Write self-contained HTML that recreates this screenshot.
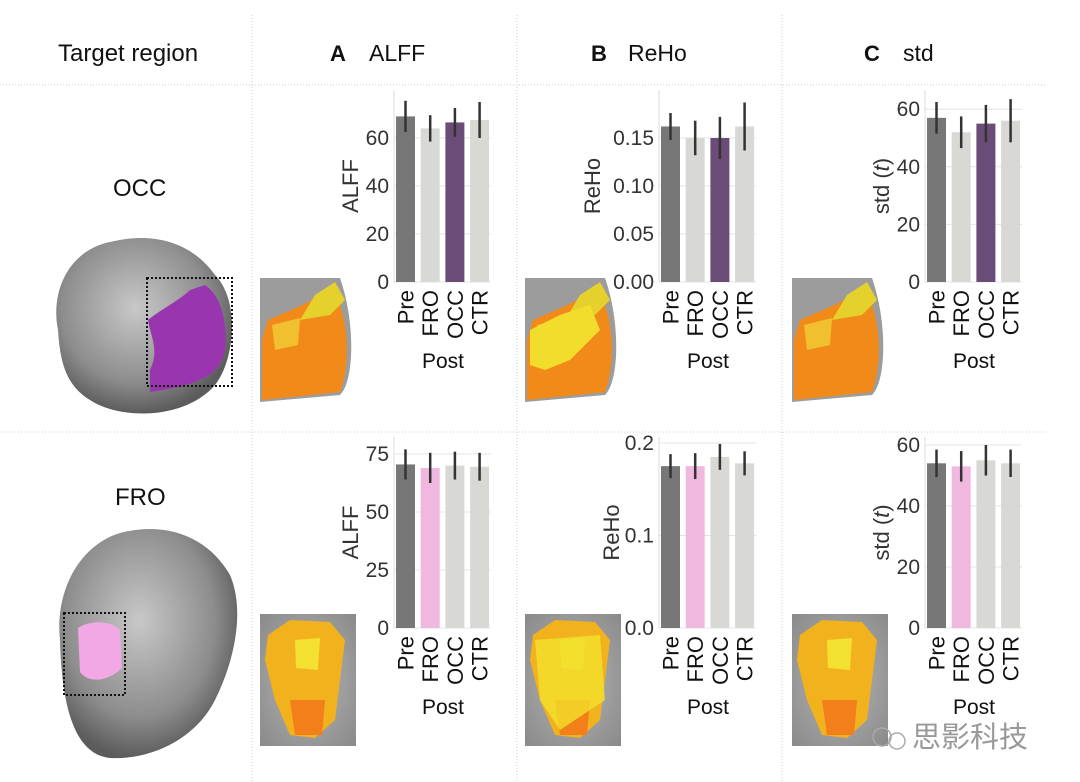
<!DOCTYPE html>
<html><head><meta charset="utf-8"><style>
html,body{margin:0;padding:0;background:#fff}
svg{display:block}
text{font-family:"Liberation Sans","Noto Sans CJK SC",sans-serif}
</style></head><body>
<svg id="s" width="1080" height="782" viewBox="0 0 1080 782" xmlns="http://www.w3.org/2000/svg">
<defs>
<radialGradient id="brain" cx="45%" cy="40%" r="60%"><stop offset="0" stop-color="#c8c8c8"/><stop offset="0.7" stop-color="#8d8d8d"/><stop offset="1" stop-color="#5c5c5c"/></radialGradient>
<radialGradient id="gbg" cx="50%" cy="50%" r="70%"><stop offset="0" stop-color="#b5b5b5"/><stop offset="1" stop-color="#8a8a8a"/></radialGradient>
</defs>
<g stroke="#ccc" stroke-dasharray="1,2" stroke-width="1">
<line x1="252" y1="15" x2="252" y2="782"/><line x1="517" y1="15" x2="517" y2="782"/><line x1="782" y1="15" x2="782" y2="782"/>
<line x1="0" y1="85" x2="1045" y2="85"/><line x1="0" y1="432" x2="1045" y2="432"/>
</g>
<text x="58" y="61" font-size="24" fill="#111">Target region</text>
<text x="330" y="61" font-size="22" font-weight="bold" fill="#111">A</text><text x="369" y="61" font-size="23" fill="#111">ALFF</text>
<text x="591" y="61" font-size="22" font-weight="bold" fill="#111">B</text><text x="628" y="61" font-size="23" fill="#111">ReHo</text>
<text x="864" y="61" font-size="22" font-weight="bold" fill="#111">C</text><text x="903" y="61" font-size="23" fill="#111">std</text>
<text x="113" y="196" font-size="24" fill="#111">OCC</text>
<text x="115" y="505" font-size="24" fill="#111">FRO</text>
<path d="M58,330 C50,290 70,250 110,242 C150,232 190,240 215,275 C240,300 235,360 215,385 C185,420 120,420 90,400 C65,385 60,360 58,330Z" fill="url(#brain)"/>
<path d="M148,320 C160,310 180,300 190,290 L205,285 C220,295 228,320 225,350 C220,375 200,385 150,392 L150,370 C160,350 150,335 148,320Z" fill="#9a35b0"/>
<rect x="147" y="278" width="85" height="108" fill="none" stroke="#111" stroke-width="2" stroke-dasharray="2,2"/>
<path d="M60,640 C55,590 80,545 120,533 C170,520 210,540 230,575 C245,610 235,660 215,700 C195,740 150,760 110,758 C80,755 62,720 60,640Z" fill="url(#brain)"/>
<path d="M78,628 C90,620 110,620 120,630 L122,668 C110,680 90,685 80,672Z" fill="#f3a8e6"/>
<rect x="64" y="613" width="61" height="82" fill="none" stroke="#111" stroke-width="2" stroke-dasharray="2,2"/>
<g id="t1">
<path d="M260,278 L340,278 C355,320 355,380 340,395 L260,402Z" fill="#9c9c9c"/>
<path d="M268,320 C290,310 320,300 330,285 C348,310 352,360 340,392 L262,400 L262,340Z" fill="#f28a1a"/>
<path d="M315,295 L335,282 L345,300 L330,315 L300,320Z" fill="#e6d02c"/>
<path d="M272,325 L300,318 L298,345 L275,350Z" fill="#f0c030"/>
</g>
<use href="#t1" x="265"/>
<use href="#t1" x="532"/>
<path d="M530,330 L560,315 L590,305 L600,330 L570,360 L545,370 L530,365Z" fill="#f2dc2c"/>
<g id="t2">
<rect x="260" y="614" width="96" height="132" fill="url(#gbg)"/>
<path d="M268,635 L290,620 L330,622 L345,640 L340,680 L335,720 L315,738 L290,735 L275,700 L265,660Z" fill="#f2b21e"/>
<path d="M290,700 L325,700 L322,735 L295,735Z" fill="#f27f1a"/>
<path d="M295,640 L320,638 L318,670 L296,668Z" fill="#f4e030"/>
</g>
<use href="#t2" x="265"/>
<use href="#t2" x="532"/>
<path d="M535,640 L600,635 L605,700 L560,730 L540,700Z" fill="#f2e02c" opacity="0.8"/>
<g id="charts"></g>
<text x="912" y="747" font-size="29" fill="#999">思影科技</text>
<circle cx="882" cy="737" r="9" fill="none" stroke="#aaa" stroke-width="1.5"/><circle cx="897" cy="741" r="8" fill="none" stroke="#aaa" stroke-width="1.5"/>
</svg>
<script>
var g=document.getElementById('charts'),h='';
var cols=[396,661,927],rows=[{b:282,t:90},{b:628,t:437}];
var charts=[
 [0,0,'ALFF',[[0,'0'],[20,'20'],[40,'40'],[60,'60']],2.4,[[69,6.5],[64,5.5],[66.5,6],[67.5,7.5]],'#6b4c78'],
 [1,0,'ReHo',[[0,'0.00'],[.05,'0.05'],[.10,'0.10'],[.15,'0.15']],960,[[.162,.014],[.150,.018],[.150,.022],[.162,.025]],'#6b4c78'],
 [2,0,'std (t)',[[0,'0'],[20,'20'],[40,'40'],[60,'60']],2.88,[[57,5.5],[52,5.5],[55,6.5],[56,7.5]],'#6b4c78'],
 [0,1,'ALFF',[[0,'0'],[25,'25'],[50,'50'],[75,'75']],2.32,[[70.5,6.5],[69,6.5],[70,6],[69.5,6]],'#f0b8df'],
 [1,1,'ReHo',[[0,'0.0'],[.1,'0.1'],[.2,'0.2']],925,[[.175,.013],[.175,.014],[.185,.014],[.178,.013]],'#f0b8df'],
 [2,1,'std (t)',[[0,'0'],[20,'20'],[40,'40'],[60,'60']],3.05,[[54,4.5],[53,5],[55,5],[54,4.5]],'#f0b8df']
];
charts.forEach(function(c){
 var x0=cols[c[0]],r=rows[c[1]],b=r.b,s=c[4];
 h+='<line x1="'+(x0-2)+'" y1="'+r.t+'" x2="'+(x0-2)+'" y2="'+b+'" stroke="#ddd"/>';
 h+='<line x1="'+(x0-2)+'" y1="'+b+'" x2="'+(x0+95)+'" y2="'+b+'" stroke="#ddd"/>';
 c[3].forEach(function(t){var y=b-t[0]*s;
  h+='<line x1="'+(x0-2)+'" y1="'+y+'" x2="'+(x0+95)+'" y2="'+y+'" stroke="#e4e4e4"/>';
  h+='<text x="'+(x0-7)+'" y="'+(y+7)+'" font-size="21" fill="#333" text-anchor="end">'+t[1]+'</text>';});
 var lab=c[2]=='std (t)'?'std (<tspan font-style="italic">t</tspan>)':c[2];
 h+='<text transform="translate('+(x0-38-(c[2]=='ReHo'&&c[1]==0?23:0)+(c[2]=='ReHo'&&c[1]==1?-4:0))+','+((r.t+b)/2)+') rotate(-90)" font-size="22" fill="#333" text-anchor="middle">'+lab+'</text>';
 var names=['Pre','FRO','OCC','CTR'];
 c[5].forEach(function(v,i){var bx=x0+i*24.7,w=19;
  var col=i==0?'#777':((c[1]==0&&i==2)||(c[1]==1&&i==1)?c[6]:'#d8d9d5');
  var y=b-v[0]*s;
  h+='<rect x="'+bx+'" y="'+y+'" width="'+w+'" height="'+(b-y)+'" fill="'+col+'"/>';
  h+='<line x1="'+(bx+w/2)+'" y1="'+(y-v[1]*s)+'" x2="'+(bx+w/2)+'" y2="'+(y+v[1]*s)+'" stroke="#333" stroke-width="2.5"/>';
  h+='<text transform="translate('+(bx+w/2+8)+','+(b+8)+') rotate(-90)" font-size="22" fill="#111" text-anchor="end">'+names[i]+'</text>';});
 h+='<text x="'+(x0+47)+'" y="'+(b+86)+'" font-size="21" fill="#111" text-anchor="middle">Post</text>';
});
g.innerHTML=h;
</script>
</body></html>
